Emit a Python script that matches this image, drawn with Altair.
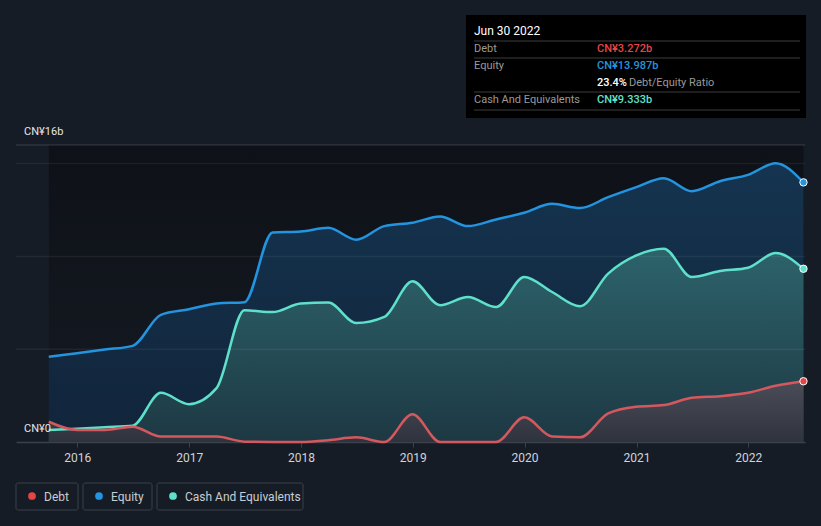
import altair as alt
import pandas as pd

# ---------------- data ----------------
dates = ["2015-09-30", "2015-12-31", "2016-03-31", "2016-06-30", "2016-09-30", "2016-12-31",
         "2017-03-31", "2017-06-30", "2017-09-30", "2017-12-31", "2018-03-31", "2018-06-30",
         "2018-09-30", "2018-12-31", "2019-03-31", "2019-06-30", "2019-09-30", "2019-12-31",
         "2020-03-31", "2020-06-30", "2020-09-30", "2020-12-31", "2021-03-31", "2021-06-30",
         "2021-09-30", "2021-12-31", "2022-03-31", "2022-06-30"]
debt = [1.09, 0.65, 0.65, 0.82, 0.29, 0.29, 0.29, 0.02, 0.0, 0.0, 0.1, 0.25, 0.0, 1.49,
        0.0, 0.0, 0.0, 1.33, 0.29, 0.25, 1.54, 1.9, 1.99, 2.38, 2.47, 2.65, 3.03, 3.272]
equity = [4.59, 4.78, 4.98, 5.18, 6.85, 7.15, 7.46, 7.53, 11.29, 11.34, 11.54, 10.9, 11.63, 11.81,
          12.15, 11.63, 11.99, 12.35, 12.83, 12.6, 13.19, 13.73, 14.21, 13.51, 14.05, 14.39, 15.02, 13.987]
cash = [0.645, 0.72, 0.8, 0.88, 2.65, 2.04, 2.9, 7.1, 7.0, 7.46, 7.51, 6.41, 6.74, 8.66,
        7.37, 7.81, 7.27, 8.89, 8.08, 7.31, 9.07, 10.05, 10.41, 8.89, 9.21, 9.39, 10.18, 9.333]

grid_values = [5, 10, 15]
top_value = [16]
y_labels = ["CN¥0", "CN¥16b"]
y_label_values = [0, 16]

tooltip_title = "Jun 30 2022"
tooltip_labels = ["Debt", "Equity", "Cash And Equivalents"]
tooltip_values = ["CN¥3.272b", "CN¥13.987b", "CN¥9.333b"]
ratio_value = "23.4%"
ratio_label = "Debt/Equity Ratio"
legend_names = ["Debt", "Equity", "Cash And Equivalents"]

FONT = "Roboto"
BG = "#161c26"
C_DEBT_LINE = "#d4585e"
C_DEBT_DOT = "#e64545"
C_EQ = "#2394df"
C_CASH = "#5fe0cb"

df = pd.DataFrame({"date": pd.to_datetime(dates), "debt": debt, "equity": equity, "cash": cash})
last = df.iloc[[-1]]

xscale = alt.Scale(domain=[alt.DateTime(year=2015, month=6, date=15),
                           alt.DateTime(year=2022, month=7, date=5)])
yscale = alt.Scale(domain=[0, 16], nice=False, zero=True)
xaxis = alt.Axis(format="%Y", tickCount="year", title=None, grid=False)

X = alt.X("date:T", scale=xscale, axis=xaxis)


def Y(field):
    return alt.Y(field, scale=yscale, axis=None)


def grad(top, bottom):
    return alt.Gradient(gradient="linear",
                        stops=[alt.GradientStop(color=top, offset=0),
                               alt.GradientStop(color=bottom, offset=1)],
                        x1=0, x2=0, y1=0, y2=1)


base = alt.Chart(df)

# background band over data range
band_df = pd.DataFrame({"date": [pd.to_datetime(dates[0])], "end": [pd.to_datetime(dates[-1])],
                        "top": [16], "bottom": [0]})
band = alt.Chart(band_df).mark_rect(fill=grad("#0e1117", "#151a23")).encode(
    x=X, x2="end:T", y=Y("top:Q"), y2="bottom:Q")

eq_area = base.mark_area(interpolate="monotone", fill=grad("#15344f", "#11243a")).encode(
    x=X, y=Y("equity:Q"))
eq_line = base.mark_line(interpolate="monotone", color=C_EQ, strokeWidth=2.5).encode(
    x=X, y=Y("equity:Q"))

cash_area = base.mark_area(interpolate="monotone", fill=grad("#2d636b", "#1d3843")).encode(
    x=X, y=Y("cash:Q"))
cash_line = base.mark_line(interpolate="monotone", color=C_CASH, strokeWidth=2.5).encode(
    x=X, y=Y("cash:Q"))

debt_area = base.mark_area(interpolate="monotone", fill=grad("#4a4d58", "#2f333d")).encode(
    x=X, y=Y("debt:Q"))
debt_line = base.mark_line(interpolate="monotone", color=C_DEBT_LINE, strokeWidth=2.5).encode(
    x=X, y=Y("debt:Q"))

grid = alt.Chart(pd.DataFrame({"v": grid_values})).mark_rule(
    color="#ffffff", opacity=0.06, strokeWidth=1.5).encode(y=Y("v:Q"))
top_line = alt.Chart(pd.DataFrame({"v": top_value})).mark_rule(
    color="#ffffff", opacity=0.16, strokeWidth=1).encode(y=Y("v:Q"))

lb = alt.Chart(last)
dot_eq = lb.mark_point(filled=True, size=55, fill=C_EQ, stroke="white", strokeWidth=1, opacity=1).encode(
    x=X, y=Y("equity:Q"))
dot_cash = lb.mark_point(filled=True, size=55, fill=C_CASH, stroke="white", strokeWidth=1, opacity=1).encode(
    x=X, y=Y("cash:Q"))
dot_debt = lb.mark_point(filled=True, size=55, fill=C_DEBT_DOT, stroke="white", strokeWidth=1, opacity=1).encode(
    x=X, y=Y("debt:Q"))

ylab = alt.Chart(pd.DataFrame({"v": y_label_values, "t": y_labels})).mark_text(
    align="left", baseline="middle", dx=0, dy=-13, font=FONT, fontSize=11, color="#e6e6e6").encode(
    x=alt.value(8), y=Y("v:Q"), text="t:N")

one = pd.DataFrame({"a": [0]})


def txt(s, x, y, color, size=11, weight="normal", align="left"):
    return alt.Chart(one).mark_text(text=s, align=align, baseline="middle", font=FONT,
                                    fontSize=size, fontWeight=weight, color=color).encode(
        x=alt.value(x), y=alt.value(y))


def hline(x1, x2, y, color):
    return alt.Chart(one).mark_rule(color=color, strokeWidth=1).encode(
        x=alt.value(x1), x2=alt.value(x2), y=alt.value(y))


# tooltip box
tip_box = alt.Chart(one).mark_rect(fill="#000000").encode(
    x=alt.value(450), x2=alt.value(790), y=alt.value(-130), y2=alt.value(-27))
tip_layers = [tip_box,
              txt(tooltip_title, 458, -114, "#ffffff", 12),
              hline(458, 784, -104, "#3c3c3c"),
              hline(458, 784, -87, "#3c3c3c"),
              hline(458, 784, -53, "#3c3c3c"),
              hline(458, 784, -35, "#3c3c3c"),
              txt(tooltip_labels[0], 458, -96, "#9a9a9a"),
              txt(tooltip_values[0], 581, -96, "#e64545", 11, 500),
              txt(tooltip_labels[1], 458, -79, "#9a9a9a"),
              txt(tooltip_values[1], 581, -79, C_EQ, 11, 500),
              txt(ratio_value, 581, -62, "#ffffff", 11, 500),
              txt(ratio_label, 613, -62, "#9a9a9a"),
              txt(tooltip_labels[2], 458, -45, "#9a9a9a"),
              txt(tooltip_values[2], 581, -45, C_CASH, 11, 500)]


# legend
def legend_item(name, x0, x1, color):
    box = alt.Chart(one).mark_rect(fill=BG, stroke="#3b414b", strokeWidth=1, cornerRadius=2).encode(
        x=alt.value(x0), x2=alt.value(x1), y=alt.value(338), y2=alt.value(365))
    dot = alt.Chart(one).mark_point(filled=True, size=60, color=color, opacity=1).encode(
        x=alt.value(x0 + 16), y=alt.value(351))
    label = txt(name, x0 + 28, 351.5, "#c8ccd2", 12)
    return [box, dot, label]


leg_layers = (legend_item(legend_names[0], 0, 62, C_DEBT_DOT)
              + legend_item(legend_names[1], 67, 136, C_EQ)
              + legend_item(legend_names[2], 141, 287, C_CASH))

chart = alt.layer(band, eq_area, cash_area, debt_area, grid, top_line,
                  eq_line, cash_line, debt_line, dot_eq, dot_cash, dot_debt, ylab,
                  *tip_layers, *leg_layers).properties(
    width=789, height=297,
    autosize=alt.AutoSizeParams(type="none"),
    padding={"left": 8, "top": 137, "right": 8, "bottom": 76},
    background=BG,
).configure_view(stroke=None).configure_axis(
    domainColor="#3b414b", tickColor="#3b414b", labelColor="#d0d3d8", labelFont=FONT,
    labelFontSize=12, tickSize=5, labelPadding=5, domainWidth=1.5,
)

chart.save("out.html", embed_options={"renderer": "svg", "actions": False})

with open("out.html", encoding="utf-8") as f:
    html = f.read()
html = html.replace("<head>", "<head><style>html,body{background:%s;}</style>" % BG, 1)
with open("out.html", "w", encoding="utf-8") as f:
    f.write(html)
